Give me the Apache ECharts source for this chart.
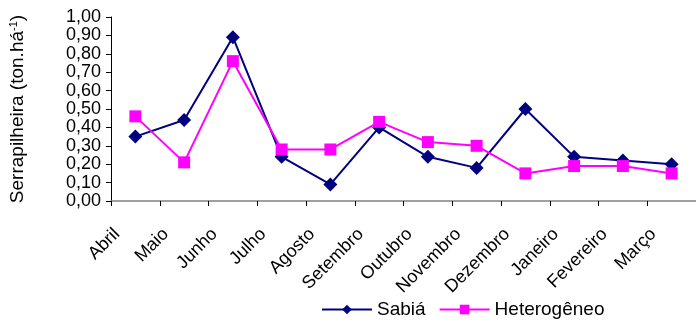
<!DOCTYPE html>
<html>
<head>
<meta charset="utf-8">
<script src="https://cdn.jsdelivr.net/npm/echarts@6/dist/echarts.min.js"></script>
<style>
html,body{margin:0;padding:0;background:#fff;}
#chart{width:696px;height:322px;}
</style>
</head>
<body>
<div id="chart"></div>
<script>
var categories = ["Abril","Maio","Junho","Julho","Agosto","Setembro","Outubro","Novembro","Dezembro","Janeiro","Fevereiro","Março"];
var sabia = [0.35,0.44,0.89,0.24,0.09,0.40,0.24,0.18,0.50,0.24,0.22,0.20];
var heterogeneo = [0.46,0.21,0.76,0.28,0.28,0.43,0.32,0.30,0.15,0.19,0.19,0.15];
var seriesNames = ["Sabiá","Heterogêneo"];
var yTicks = {min:0, max:1, interval:0.1};

var chart = echarts.init(document.getElementById('chart'));
var font = 'Arial, "Liberation Sans", sans-serif';
chart.setOption({
  animation:false,
  backgroundColor:'#fff',
  grid:{left:111, top:17, bottom:121, right:-9, containLabel:false},
  legend:{
    data:seriesNames,
    left:316, top:295,
    itemWidth:50, itemHeight:12, itemGap:13,
    textStyle:{fontFamily:font, fontSize:19, color:'#000'},
  },
  xAxis:{
    type:'category', data:categories, boundaryGap:true,
    axisLine:{lineStyle:{color:'#808080', width:1.5}},
    axisTick:{show:true, length:5, lineStyle:{color:'#000', width:1}, alignWithLabel:false},
    axisLabel:{rotate:45, fontFamily:font, fontSize:18, color:'#000', margin:12, interval:0, padding:[0,26,0,0]},
    splitLine:{show:false}
  },
  yAxis:{
    type:'value', min:yTicks.min, max:yTicks.max, interval:yTicks.interval,
    name:'{a|Serrapilheira (ton.há}{s|-1}{a|)}',
    nameLocation:'middle', nameGap:84, nameRotate:90,
    nameTextStyle:{rich:{a:{fontFamily:font, fontSize:19, color:'#000'}, s:{fontFamily:font, fontSize:11, color:'#000', verticalAlign:'top', padding:[0,0,8,0]}}},
    axisLine:{show:true, lineStyle:{color:'#000', width:1}},
    axisTick:{show:true, length:5, lineStyle:{color:'#000'}},
    axisLabel:{fontFamily:font, fontSize:18, lineHeight:16, color:'#000', margin:10, showMinLabel:true, showMaxLabel:true, hideOverlap:false,
      formatter:function(v){return v.toFixed(2).replace('.',',');}},
    splitLine:{show:false}
  },
  series:[
    {name:seriesNames[0], type:'line', data:sabia, symbol:'diamond', symbolSize:14,
     lineStyle:{color:'#000080', width:2}, itemStyle:{color:'#000080'}, z:2},
    {name:seriesNames[1], type:'line', data:heterogeneo, symbol:'rect', symbolSize:12,
     lineStyle:{color:'#FF00FF', width:2}, itemStyle:{color:'#FF00FF'}, z:3}
  ]
});
</script>
</body>
</html>
